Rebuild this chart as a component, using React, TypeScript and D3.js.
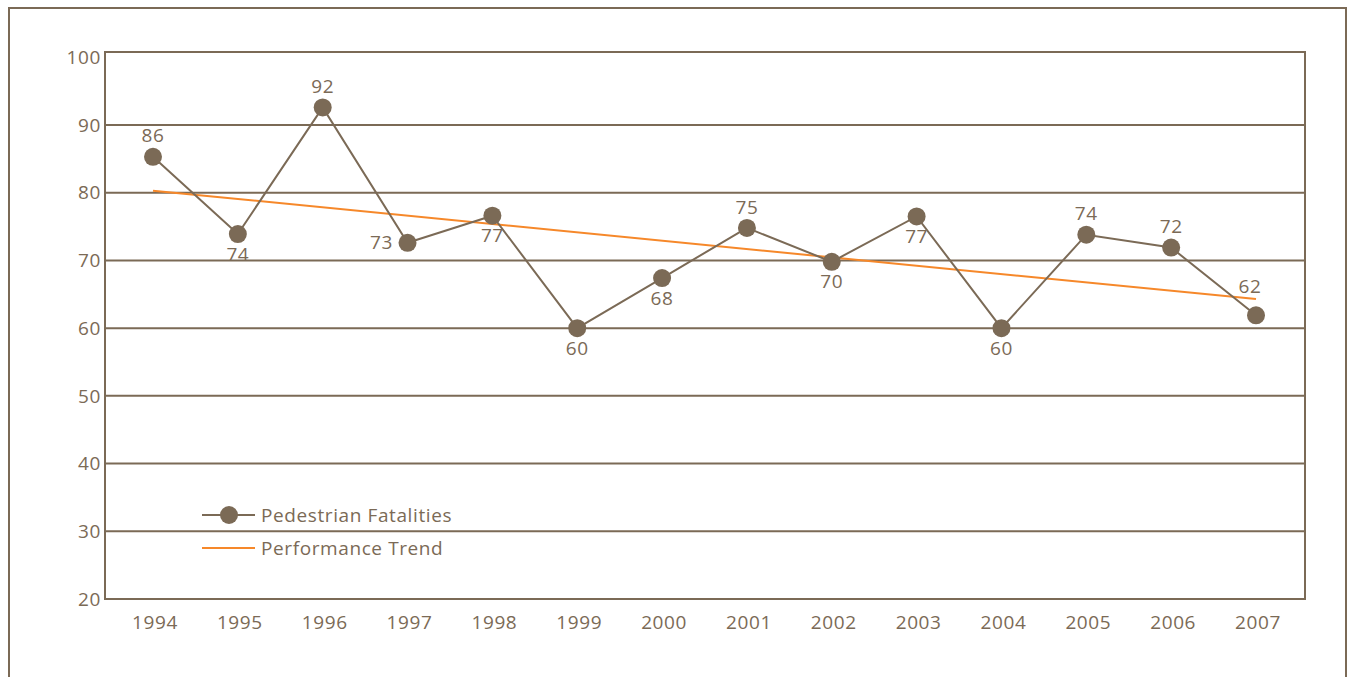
import React from "react";
import * as d3 from "d3";

const years = ["1994","1995","1996","1997","1998","1999","2000","2001","2002","2003","2004","2005","2006","2007"];
const fatalities = [85.3, 73.9, 92.6, 72.6, 76.6, 60.0, 67.4, 74.8, 69.8, 76.5, 60.0, 73.8, 71.9, 61.9];
const valueLabels = ["86","74","92","73","77","60","68","75","70","77","60","74","72","62"];
const labelPlacement = ["above","below","above","left","below","below","below","above","below","below","below","above","above","aboveLeft"];
const trendYears = ["1994","2007"];
const trendValues = [80.3, 64.3];
const yTicks = [20,30,40,50,60,70,80,90,100];
const legendItems = ["Pedestrian Fatalities","Performance Trend"];

const BROWN = "#7b6a56";
const ORANGE = "#f6882a";
const FONT = "'Open Sans', Lato, sans-serif";

export default function App() {
  const W = 1348, H = 677;
  const plotL = 105, plotR = 1305, plotT = 52, plotB = 599;
  const x = d3.scalePoint<string>().domain(years).range([153, 1256]);
  const y = d3.scaleLinear().domain([20, 90]).range([plotB, 125]);
  const line = d3.line<number>().x((_, i) => x(years[i])!).y(d => y(d));
  const trend = d3.line<number>().x((_, i) => x(trendYears[i])!).y(d => y(d));
  const fs = 19, ls = 0.6;

  return (
    <svg width={W} height={H} style={{ position: "absolute", left: 0, top: 0 }} fontFamily={FONT} letterSpacing={ls}>
      <rect x={0} y={0} width={W} height={H} fill="#fff" />
      <rect x={9} y={8} width={1337} height={700} fill="none" stroke={BROWN} strokeWidth={2} />
      {yTicks.filter(t => t > 20 && t < 100).map(t => (
        <line key={t} x1={plotL} x2={plotR} y1={y(t)} y2={y(t)} stroke={BROWN} strokeWidth={2} />
      ))}
      <rect x={plotL} y={plotT} width={plotR - plotL} height={plotB - plotT} fill="none" stroke={BROWN} strokeWidth={2} />
      {yTicks.map(t => (
        <text key={t} x={101} y={t === 100 ? 57 : y(t)} dy="0.35em" textAnchor="end" fontSize={fs} fill={BROWN}>{t}</text>
      ))}
      {years.map(yr => (
        <text key={yr} x={x(yr)! + 2} y={622} dy="0.35em" textAnchor="middle" fontSize={fs} fill={BROWN}>{yr}</text>
      ))}
      <path d={trend(trendValues)!} fill="none" stroke={ORANGE} strokeWidth={2} />
      <path d={line(fatalities)!} fill="none" stroke={BROWN} strokeWidth={2} />
      {fatalities.map((v, i) => (
        <circle key={i} cx={x(years[i])!} cy={y(v)} r={9} fill={BROWN} />
      ))}
      {fatalities.map((v, i) => {
        const p = labelPlacement[i];
        const cx = x(years[i])!, cy = y(v);
        let lx = cx, ly = cy;
        if (p === "left") lx = cx - 26;
        else if (p === "above") ly = cy - 21;
        else if (p === "below") ly = cy + 20;
        else if (p === "aboveLeft") { lx = cx - 6; ly = cy - 29; }
        return (
          <text key={i} x={lx} y={ly} dy="0.35em" textAnchor="middle" fontSize={fs} fill={BROWN}>{valueLabels[i]}</text>
        );
      })}
      <line x1={202} x2={255} y1={515} y2={515} stroke={BROWN} strokeWidth={2} />
      <circle cx={229} cy={515} r={9} fill={BROWN} />
      <text x={261} y={515} dy="0.35em" fontSize={fs} fill={BROWN}>{legendItems[0]}</text>
      <line x1={202} x2={255} y1={548} y2={548} stroke={ORANGE} strokeWidth={2} />
      <text x={261} y={548} dy="0.35em" fontSize={fs} fill={BROWN}>{legendItems[1]}</text>
    </svg>
  );
}
